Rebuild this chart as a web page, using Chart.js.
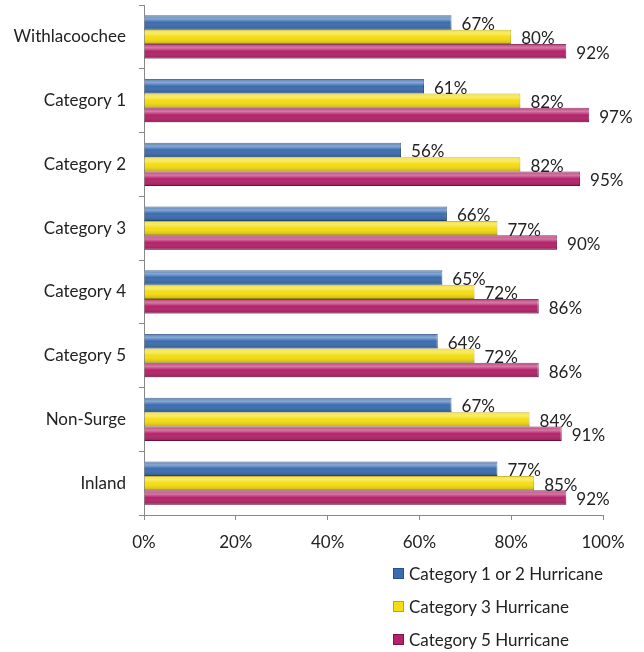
<!DOCTYPE html>
<html>
<head>
<meta charset="utf-8">
<script src="https://cdn.jsdelivr.net/npm/chart.js@4.4.0/dist/chart.umd.min.js"></script>
<style>
  body { margin: 0; background: #fff; font-family: Lato, "Open Sans", sans-serif; }
  #wrap { position: relative; width: 644px; height: 560px; }
  #legend { position: absolute; left: 393px; top: 557px; }
  .lg { display: flex; align-items: center; height: 33px; font-size: 17px; color: #222; }
  .lg span.box { width: 11px; height: 11px; margin-right: 5px; box-sizing: border-box; }
</style>
</head>
<body>
<div id="wrap"><canvas id="c"></canvas></div>
<div id="legend"></div>
<script>
const categories = ['Withlacoochee', 'Category 1', 'Category 2', 'Category 3', 'Category 4', 'Category 5', 'Non-Surge', 'Inland'];
const seriesNames = ['Category 1 or 2 Hurricane', 'Category 3 Hurricane', 'Category 5 Hurricane'];
const cat12 = [67, 61, 56, 66, 65, 64, 67, 77];
const cat3 = [80, 82, 82, 77, 72, 72, 84, 85];
const cat5 = [92, 97, 95, 90, 86, 86, 91, 92];
const xTicks = [0, 20, 40, 60, 80, 100];

const fills = ['#3a6db0', '#f4dd10', '#b5226a'];
const edges = ['#2a5088', '#c0a800', '#7e1449'];
const FONT = 'Lato, "Open Sans", sans-serif';

// tube shading on each bar, then the value label past the bar end
const barStyle = {
    id: 'barStyle',
    afterDatasetsDraw(chart) {
        const ctx = chart.ctx;
        ctx.save();
        chart.data.datasets.forEach((ds, i) => {
            chart.getDatasetMeta(i).data.forEach(bar => {
                const top = bar.y - bar.height / 2;
                const g = ctx.createLinearGradient(0, top, 0, top + bar.height);
                g.addColorStop(0, 'rgba(255,255,255,0.15)');
                g.addColorStop(0.25, 'rgba(255,255,255,0.4)');
                g.addColorStop(0.5, 'rgba(255,255,255,0)');
                g.addColorStop(1, 'rgba(0,0,0,0.22)');
                ctx.fillStyle = g;
                ctx.fillRect(bar.base, top, bar.x - bar.base, bar.height);
            });
        });
        ctx.font = '17px ' + FONT;
        ctx.fillStyle = '#222';
        ctx.textAlign = 'left';
        ctx.textBaseline = 'middle';
        chart.data.datasets.forEach((ds, i) => {
            chart.getDatasetMeta(i).data.forEach((bar, j) => {
                ctx.fillText(ds.data[j] + '%', bar.x + 10, bar.y + 2);
            });
        });
        ctx.restore();
    }
};

const chart = new Chart(document.getElementById('c'), {
    type: 'bar',
    data: {
        labels: categories,
        datasets: [cat12, cat3, cat5].map((d, i) => ({
            label: seriesNames[i],
            data: d,
            backgroundColor: fills[i],
            borderColor: edges[i],
            borderWidth: 1,
            categoryPercentage: 0.68,
            barPercentage: 1
        }))
    },
    options: {
        indexAxis: 'y',
        responsive: true,
        maintainAspectRatio: false,
        animation: false,
        layout: { padding: { top: 5, right: 41, left: 0, bottom: 0 } },
        plugins: {
            legend: { display: false },
            tooltip: { enabled: false }
        },
        scales: {
            x: {
                min: 0,
                max: 100,
                afterBuildTicks: s => { s.ticks = xTicks.map(v => ({ value: v })); },
                afterFit: s => { s.height = 45; },
                grid: { drawOnChartArea: false, tickLength: 5, color: '#888' },
                border: { color: '#888' },
                ticks: {
                    color: '#222',
                    font: { size: 17, family: FONT },
                    padding: 12,
                    callback: v => v + '%'
                }
            },
            y: {
                afterFit: s => { s.width = 144; s.paddingTop = 0; s.paddingBottom = 0; },
                grid: { drawOnChartArea: false, tickLength: 5, color: '#888', offset: true },
                border: { color: '#888' },
                ticks: {
                    color: '#222',
                    font: { size: 17, family: FONT },
                    padding: 13
                }
            }
        }
    },
    plugins: [barStyle]
});

// vertical legend at the bottom right
const legend = document.getElementById('legend');
chart.data.datasets.forEach((ds, i) => {
    const row = document.createElement('div');
    row.className = 'lg';
    row.innerHTML = '<span class="box" style="background:' + fills[i] + ';border:1px solid ' + edges[i] + '"></span>' + ds.label;
    legend.appendChild(row);
});
</script>
</body>
</html>
